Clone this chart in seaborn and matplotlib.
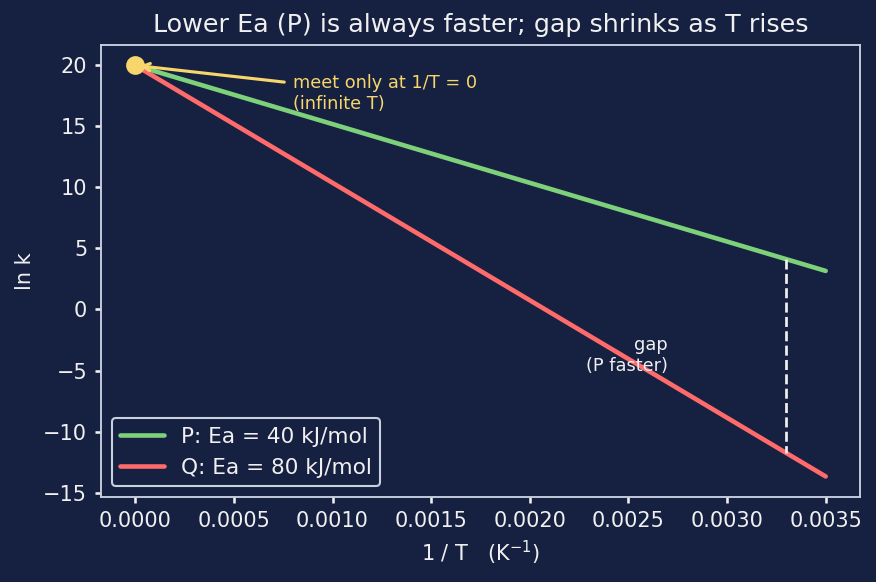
import numpy as np
import pandas as pd
import matplotlib
matplotlib.use('Agg')
import matplotlib.pyplot as plt
import seaborn as sns

# data (ln k vs 1/T, end points of the two Arrhenius lines)
inv_T = [0.0, 0.0035]
lnk_P = [20.0, 3.16]
lnk_Q = [20.0, -13.68]
series_names = ['P: Ea = 40 kJ/mol', 'Q: Ea = 80 kJ/mol']
gap_x = 0.0033
gap_P = 4.12
gap_Q = -11.75
meet_x = 0.0
meet_y = 20.0

BG = '#162040'
FG = '#f0f0f0'
GREEN = '#7dd17a'
RED = '#ff6b6b'
YELLOW = '#f7d66b'

df = pd.DataFrame({
    'x': inv_T + inv_T,
    'lnk': lnk_P + lnk_Q,
    'series': [series_names[0]] * 2 + [series_names[1]] * 2,
})

sns.set_theme(style='dark')
plt.rcParams['font.family'] = ['DejaVu Sans']

fig, ax = plt.subplots(figsize=(5.84, 3.88), dpi=150)
fig.patch.set_facecolor(BG)
ax.set_facecolor(BG)

sns.lineplot(data=df, x='x', y='lnk', hue='series',
             palette=[GREEN, RED], linewidth=2.2, ax=ax)

# dashed gap marker
ax.plot([gap_x, gap_x], [gap_P, gap_Q], color=FG, linestyle='--', linewidth=1.3)
ax.text(0.0027, -3.8, 'gap\n(P faster)', color=FG, fontsize=8.5,
        ha='right', va='center', multialignment='right')

# meeting point
ax.plot([meet_x], [meet_y], 'o', color=YELLOW, markersize=8, zorder=5)
ax.annotate('meet only at 1/T = 0\n(infinite T)', xy=(meet_x, meet_y),
            xytext=(0.0008, 17.7), color=YELLOW, fontsize=8.5,
            ha='left', va='center',
            arrowprops=dict(arrowstyle='->', color=YELLOW, lw=1.5))

ax.set_title('Lower Ea (P) is always faster; gap shrinks as T rises',
             color=FG, fontsize=12.2)
ax.set_xlabel('1 / T   (K$^{-1}$)', color=FG, fontsize=10)
ax.set_ylabel('ln k', color=FG, fontsize=10)
ax.set_xticks([0.0, 0.0005, 0.001, 0.0015, 0.002, 0.0025, 0.003, 0.0035])
ax.set_xticklabels(['0.0000', '0.0005', '0.0010', '0.0015', '0.0020',
                    '0.0025', '0.0030', '0.0035'])
ax.set_yticks([-15, -10, -5, 0, 5, 10, 15, 20])
ax.tick_params(colors=FG, labelsize=10, length=3, bottom=True, left=True)
for s in ax.spines.values():
    s.set_color('#c8d0e0')
    s.set_linewidth(0.9)
ax.grid(False)

leg = ax.legend(loc='lower left', fontsize=10.4, facecolor=BG,
                edgecolor='#c8d0e0', labelcolor=FG, framealpha=1.0)
leg.set_title(None)

fig.subplots_adjust(left=0.115, right=0.982, top=0.923, bottom=0.146)
plt.savefig('out.png', dpi=150, facecolor=BG)
